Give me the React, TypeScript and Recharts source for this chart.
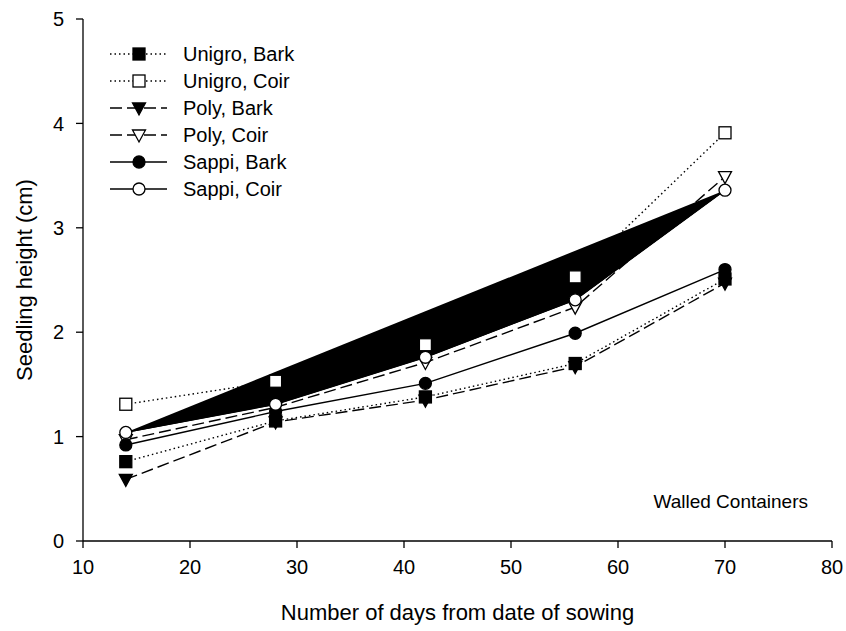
import React from "react";
import {
  ComposedChart, Line, Scatter, XAxis, YAxis,
} from "recharts";

// ── Data ──────────────────────────────────────────────────────────────────────

const days = [14, 28, 42, 56, 70];
const unigroBark = [0.76, 1.15, 1.38, 1.70, 2.51];
const unigroCoir = [1.31, 1.53, 1.88, 2.53, 3.91];
const polyBark = [0.59, 1.14, 1.35, 1.67, 2.47];
const polyCoir = [0.97, 1.28, 1.71, 2.24, 3.49];
const sappiBark = [0.92, 1.24, 1.51, 1.99, 2.60];
const sappiCoir = [1.04, 1.31, 1.76, 2.31, 3.36];

const xTicks = [10, 20, 30, 40, 50, 60, 70, 80];
const yTicks = [0, 1, 2, 3, 4, 5];

const rows = days.map((d, i) => ({
  day: d,
  ub: unigroBark[i],
  uc: unigroCoir[i],
  pb: polyBark[i],
  pc: polyCoir[i],
  sb: sappiBark[i],
  sc: sappiCoir[i],
}));

type Marker = "square" | "triangle" | "circle";

const SERIES: { key: string; name: string; marker: Marker; filled: boolean; dash?: string }[] = [
  { key: "ub", name: "Unigro, Bark", marker: "square", filled: true, dash: "1.5 3" },
  { key: "uc", name: "Unigro, Coir", marker: "square", filled: false, dash: "1.5 3" },
  { key: "pb", name: "Poly, Bark", marker: "triangle", filled: true, dash: "12 5" },
  { key: "pc", name: "Poly, Coir", marker: "triangle", filled: false, dash: "12 5" },
  { key: "sb", name: "Sappi, Bark", marker: "circle", filled: true },
  { key: "sc", name: "Sappi, Coir", marker: "circle", filled: false },
];

const FONT = "'Liberation Sans', Arial, sans-serif";
const INK = "#000";

// ── Markers ───────────────────────────────────────────────────────────────────

function MarkerShape({ cx, cy, marker, filled }: { cx: number; cy: number; marker: Marker; filled: boolean }) {
  const fill = filled ? INK : "#fff";
  if (marker === "square") {
    return <rect x={cx - 6} y={cy - 6} width={12} height={12} fill={fill} stroke={INK} strokeWidth={1.3} />;
  }
  if (marker === "triangle") {
    const pts = `${cx - 6.5},${cy - 5} ${cx + 6.5},${cy - 5} ${cx},${cy + 7}`;
    return <polygon points={pts} fill={fill} stroke={INK} strokeWidth={1.3} strokeLinejoin="miter" />;
  }
  return <circle cx={cx} cy={cy} r={6} fill={fill} stroke={INK} strokeWidth={1.3} />;
}

const makeDot = (marker: Marker, filled: boolean) => (p: any) => {
  if (p.cx == null || p.cy == null) return <g key={p.index} />;
  return <MarkerShape key={p.index} cx={p.cx} cy={p.cy} marker={marker} filled={filled} />;
};

// ── Legend (drawn inside the plot, top-left) ─────────────────────────────────

function LegendBox({ x, y }: { x: number; y: number }) {
  return (
    <g transform={`translate(${x},${y})`}>
      {SERIES.map((s, i) => {
        const ry = 14 + i * 27;
        return (
          <g key={s.key}>
            <line x1={10} x2={67} y1={ry} y2={ry} stroke={INK} strokeWidth={1.3} strokeDasharray={s.dash} />
            <MarkerShape cx={39} cy={ry} marker={s.marker} filled={s.filled} />
            <text x={83} y={ry + 7} fontSize={20} fontFamily={FONT} fill={INK}>{s.name}</text>
          </g>
        );
      })}
    </g>
  );
}

// ── Chart ─────────────────────────────────────────────────────────────────────

export default function App() {
  return (
    <div style={{ position: "absolute", left: 0, top: 0, background: "#fff" }}>
      <ComposedChart
        width={846}
        height={631}
        data={rows}
        margin={{ top: 19, right: 14, left: 23, bottom: 30 }}
      >
        <XAxis
          dataKey="day"
          type="number"
          domain={[10, 80]}
          ticks={xTicks}
          interval={0}
          height={60}
          stroke={INK}
          strokeWidth={1.3}
          tickSize={7}
          tickMargin={12}
          tick={{ fontSize: 20, fill: INK, fontFamily: FONT }}
          label={({ viewBox }: any) => (
            <text
              x={viewBox.x + viewBox.width / 2}
              y={620}
              textAnchor="middle"
              fontSize={22}
              fontFamily={FONT}
              fill={INK}
            >
              Number of days from date of sowing
            </text>
          )}
        />
        <XAxis xAxisId="top" orientation="top" type="number" domain={[10, 80]} height={0} tick={false} tickLine={false} stroke={INK} strokeWidth={1.3} />
        <YAxis
          type="number"
          domain={[0, 5]}
          ticks={yTicks}
          interval={0}
          width={60}
          stroke={INK}
          strokeWidth={1.3}
          tickSize={7}
          tickMargin={12}
          tick={{ fontSize: 20, fill: INK, fontFamily: FONT }}
          label={({ viewBox }: any) => {
            const cx = viewBox.x + 1;
            const cy = viewBox.y + viewBox.height / 2;
            return (
              <text
                x={cx}
                y={cy}
                transform={`rotate(-90 ${cx} ${cy})`}
                textAnchor="middle"
                dominantBaseline="central"
                fontSize={22}
                fontFamily={FONT}
                fill={INK}
              >
                Seedling height (cm)
              </text>
            );
          }}
        />
        <YAxis yAxisId="right" orientation="right" type="number" domain={[0, 5]} width={0} tick={false} tickLine={false} stroke={INK} strokeWidth={1.3} />

        {/* filled outline of the Sappi, Coir profile */}
        <Scatter
          data={rows}
          dataKey="sc"
          line={{ fill: INK, stroke: INK, strokeWidth: 1 }}
          shape={() => <g />}
          legendType="none"
          isAnimationActive={false}
        />

        {SERIES.map((s) => (
          <Line
            key={s.key}
            dataKey={s.key}
            name={s.name}
            type="linear"
            stroke={INK}
            strokeWidth={1.4}
            strokeDasharray={s.dash}
            dot={makeDot(s.marker, s.filled)}
            activeDot={false}
            isAnimationActive={false}
          />
        ))}

        <LegendBox x={100} y={40} />

        <text x={808} y={508} textAnchor="end" fontSize={19} fontFamily={FONT} fill={INK}>
          Walled Containers
        </text>
      </ComposedChart>
    </div>
  );
}
